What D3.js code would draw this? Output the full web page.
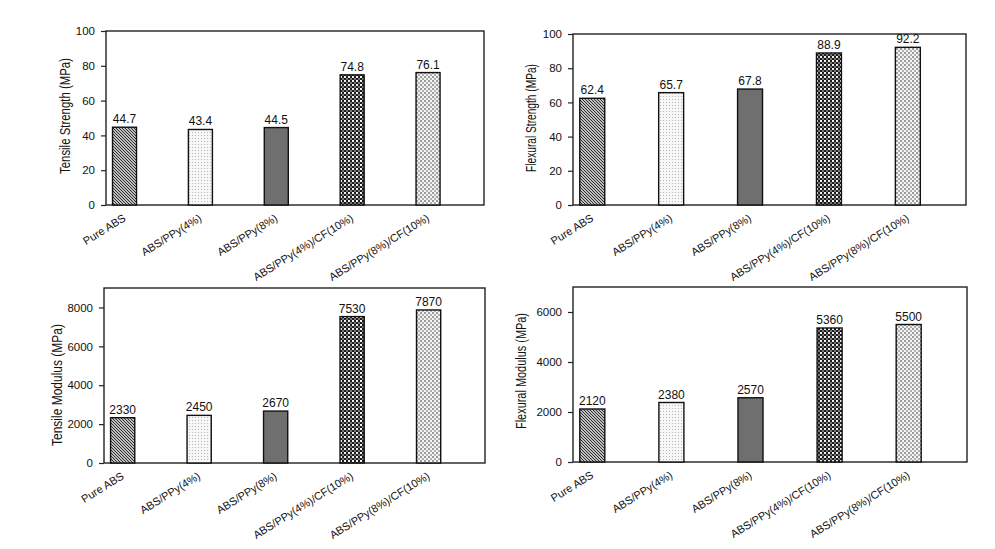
<!DOCTYPE html>
<html>
<head>
<meta charset="utf-8">
<script src="https://cdn.jsdelivr.net/npm/d3@7/dist/d3.min.js"></script>
<style>
  html, body { margin: 0; padding: 0; background: #fff; }
  svg { display: block; font-family: "Liberation Sans", Arial, sans-serif; }
</style>
</head>
<body>
<svg id="chart" width="995" height="549"></svg>
<script>
// ---- data ----
const categories = ["Pure ABS", "ABS/PPy(4%)", "ABS/PPy(8%)", "ABS/PPy(4%)/CF(10%)", "ABS/PPy(8%)/CF(10%)"];
const tensileStrength = [44.7, 43.4, 44.5, 74.8, 76.1];
const flexuralStrength = [62.4, 65.7, 67.8, 88.9, 92.2];
const tensileModulus = [2330, 2450, 2670, 7530, 7870];
const flexuralModulus = [2120, 2380, 2570, 5360, 5500];
const strengthTicks = [0, 20, 40, 60, 80, 100];
const tensileModulusTicks = [0, 2000, 4000, 6000, 8000];
const flexuralModulusTicks = [0, 2000, 4000, 6000];
const yTitles = ["Tensile Strength (MPa)", "Flexural Strength (MPa)", "Tensile Modulus (MPa)", "Flexural Modulus (MPa)"];

// ---- layout ----
const panels = [
  { values: tensileStrength, ticks: strengthTicks, max: 100, title: yTitles[0],
    box: { l: 106, r: 484, t: 31, b: 205 }, titleX: 65, titleY: 116, titleLen: 116 },
  { values: flexuralStrength, ticks: strengthTicks, max: 100, title: yTitles[1],
    box: { l: 573, r: 966, t: 34, b: 205 }, titleX: 531, titleY: 118, titleLen: 108 },
  { values: tensileModulus, ticks: tensileModulusTicks, max: 9000, title: yTitles[2],
    box: { l: 104, r: 485, t: 288, b: 463 }, titleX: 57, titleY: 385, titleLen: 122 },
  { values: flexuralModulus, ticks: flexuralModulusTicks, max: 7000, title: yTitles[3],
    box: { l: 573, r: 967, t: 287, b: 462 }, titleX: 521, titleY: 371, titleLen: 116 }
];

const svg = d3.select("#chart");
const defs = svg.append("defs");

// patterns
const p1 = defs.append("pattern").attr("id", "pat0").attr("patternUnits", "userSpaceOnUse")
  .attr("width", 3).attr("height", 3);
p1.append("rect").attr("width", 3).attr("height", 3).attr("fill", "#fff");
p1.append("path").attr("d", "M-1,-1 L4,4 M-1,2 L1,4 M2,-1 L4,1").attr("stroke", "#222").attr("stroke-width", 1.1);

const p2 = defs.append("pattern").attr("id", "pat1").attr("patternUnits", "userSpaceOnUse")
  .attr("width", 3).attr("height", 3);
p2.append("rect").attr("width", 3).attr("height", 3).attr("fill", "#f7f7f7");
p2.append("rect").attr("width", 1).attr("height", 1).attr("fill", "#b8b8b8");

const p4 = defs.append("pattern").attr("id", "pat3").attr("patternUnits", "userSpaceOnUse")
  .attr("width", 4).attr("height", 4);
p4.append("rect").attr("width", 4).attr("height", 4).attr("fill", "#1c1c1c");
p4.append("rect").attr("x", 0).attr("y", 0).attr("width", 2).attr("height", 2).attr("fill", "#f0f0f0");
p4.append("rect").attr("x", 2).attr("y", 2).attr("width", 2).attr("height", 2).attr("fill", "#777");

const p5 = defs.append("pattern").attr("id", "pat4").attr("patternUnits", "userSpaceOnUse")
  .attr("width", 4).attr("height", 4);
p5.append("rect").attr("width", 4).attr("height", 4).attr("fill", "#f4f4f4");
p5.append("rect").attr("x", 0).attr("y", 0).attr("width", 2).attr("height", 2).attr("fill", "#9a9a9a");
p5.append("rect").attr("x", 2).attr("y", 2).attr("width", 2).attr("height", 2).attr("fill", "#b0b0b0");

const fills = ["url(#pat0)", "url(#pat1)", "#6f6f6f", "url(#pat3)", "url(#pat4)"];

panels.forEach(p => {
  const { l, r, t, b } = p.box;
  const W = r - l;
  const x = d3.scalePoint().domain(categories).range([l + 0.049 * W, l + 0.852 * W]);
  const y = d3.scaleLinear().domain([0, p.max]).range([b, t]);
  const bw = 0.0635 * W;
  const g = svg.append("g");

  // frame
  g.append("rect").attr("x", l).attr("y", t).attr("width", W).attr("height", b - t)
    .attr("fill", "none").attr("stroke", "#222").attr("stroke-width", 1.4);

  // y axis
  const ya = g.append("g").attr("transform", `translate(${l},0)`)
    .call(d3.axisLeft(y).tickValues(p.ticks).tickSize(5).tickPadding(6).tickFormat(d3.format("d")));
  ya.select(".domain").remove();
  ya.selectAll(".tick line").attr("stroke", "#222").attr("stroke-width", 1.2);
  ya.selectAll(".tick text").attr("font-size", 11.5).attr("fill", "#111")
    .attr("font-family", "'Liberation Sans', Arial, sans-serif");

  // bars
  g.selectAll("rect.bar").data(p.values).join("rect").attr("class", "bar")
    .attr("x", (d, i) => x(categories[i]) - bw / 2)
    .attr("y", d => y(d))
    .attr("width", bw)
    .attr("height", d => b - y(d))
    .attr("fill", (d, i) => fills[i])
    .attr("stroke", "#111").attr("stroke-width", 1.4);

  // value labels
  g.selectAll("text.val").data(p.values).join("text").attr("class", "val")
    .attr("x", (d, i) => x(categories[i]))
    .attr("y", d => y(d) - 4)
    .attr("text-anchor", "middle").attr("font-size", 12).attr("fill", "#111")
    .text(d => String(d));

  // x labels
  g.selectAll("text.xl").data(categories).join("text").attr("class", "xl")
    .attr("transform", d => `translate(${x(d) + 2},${b + 15}) rotate(-32)`)
    .attr("text-anchor", "end").attr("font-size", 11).attr("fill", "#111")
    .text(d => d);

  // y title
  g.append("text")
    .attr("transform", `translate(${p.titleX},${p.titleY}) rotate(-90)`)
    .attr("text-anchor", "middle").attr("dominant-baseline", "central")
    .attr("font-size", 14).attr("fill", "#111")
    .attr("textLength", p.titleLen).attr("lengthAdjust", "spacingAndGlyphs")
    .text(p.title);
});
</script>
</body>
</html>
